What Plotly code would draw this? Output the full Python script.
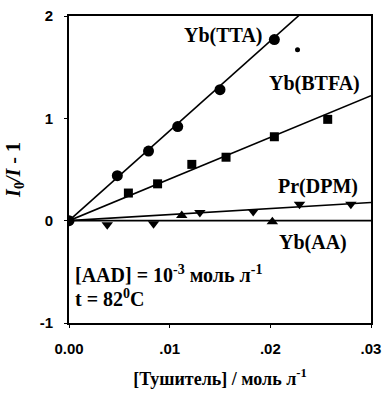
import plotly.graph_objects as go

# Quencher concentration (mol/L) and I0/I - 1 for each complex
x_tta = [0.0, 0.0048, 0.0079, 0.0108, 0.0150, 0.0204]
y_tta = [0.0, 0.44, 0.68, 0.92, 1.28, 1.77]

x_btfa = [0.0059, 0.0088, 0.0122, 0.0156, 0.0204, 0.0257]
y_btfa = [0.27, 0.36, 0.55, 0.62, 0.82, 0.99]

x_dpm = [0.0038, 0.0084, 0.0130, 0.0183, 0.0229, 0.0280]
y_dpm = [-0.04, -0.03, 0.08, 0.09, 0.16, 0.16]

x_aa = [0.0112, 0.0202]
y_aa = [0.05, -0.01]

x_stray = [0.0227]
y_stray = [1.67]

# Stern-Volmer slopes of the fitted lines (L/mol)
slope_names = ["TTA", "BTFA", "DPM", "AA"]
slopes = [87.8, 40.7, 5.9, 0.0]
x_fit = [0.0, 0.03]

x_ticks = [0.0, 0.01, 0.02, 0.03]
x_tick_text = ["0.00", ".01", ".02", ".03"]
y_ticks = [-1, 0, 1, 2]
y_tick_text = ["-1", "0", "1", "2"]

fig = go.Figure()

for k in slopes:
    fig.add_trace(go.Scatter(
        x=x_fit, y=[k * v for v in x_fit], mode="lines",
        line=dict(color="black", width=1.6), showlegend=False, hoverinfo="skip"))

fig.add_trace(go.Scatter(x=x_tta, y=y_tta, mode="markers",
                         marker=dict(symbol="circle", size=11, color="black"), showlegend=False))
fig.add_trace(go.Scatter(x=x_btfa, y=y_btfa, mode="markers",
                         marker=dict(symbol="square", size=9, color="black"), showlegend=False))
fig.add_trace(go.Scatter(x=x_dpm, y=y_dpm, mode="markers",
                         marker=dict(symbol="triangle-down", size=10, color="black"), showlegend=False))
fig.add_trace(go.Scatter(x=x_aa, y=y_aa, mode="markers",
                         marker=dict(symbol="triangle-up", size=10, color="black"), showlegend=False))
fig.add_trace(go.Scatter(x=x_stray, y=y_stray, mode="markers",
                         marker=dict(symbol="circle", size=5, color="black"), showlegend=False))

serif = "Liberation Serif"
lab_font = dict(family=serif, size=20, color="black", weight="bold")

labels = [
    ("Yb(TTA)", 0.0153, 1.81, "center"),
    ("Yb(BTFA)", 0.0244, 1.34, "center"),
    ("Pr(DPM)", 0.0247, 0.33, "center"),
    ("Yb(AA)", 0.0242, -0.21, "center"),
    ("[AAD] = 10<sup>-3</sup> моль л<sup>-1</sup>", 0.0004, -0.52, "left"),
    ("t = 82<sup>0</sup>C", 0.0004, -0.76, "left"),
]
for text, lx, ly, anchor in labels:
    fig.add_annotation(x=lx, y=ly, text=text, showarrow=False,
                       xanchor=anchor, yanchor="middle", font=lab_font)

tick_font = dict(family="Liberation Sans", size=15, color="black", weight="bold")

fig.update_xaxes(
    range=[0, 0.03], tickvals=x_ticks, ticktext=x_tick_text,
    showline=True, linecolor="black", linewidth=2, mirror=True,
    ticks="outside", ticklen=3, tickcolor="black", tickfont=tick_font,
    ticklabelstandoff=8, automargin=False,
    showgrid=False, zeroline=False,
    title=dict(text="[Тушитель] / моль л<sup>-1</sup>",
               font=dict(family=serif, size=18, color="black", weight="bold"),
               standoff=16),
)
fig.update_yaxes(
    range=[-1, 2], tickvals=y_ticks, ticktext=y_tick_text,
    showline=True, linecolor="black", linewidth=2, mirror=True,
    ticks="outside", ticklen=3, tickcolor="black", tickfont=tick_font,
    ticklabelstandoff=8, automargin=False,
    showgrid=False, zeroline=False,
    title=dict(text="<i>I</i><sub>0</sub><i>/I</i> - 1",
               font=dict(family=serif, size=20, color="black", weight="bold"),
               standoff=14),
)

fig.update_layout(
    width=383, height=393,
    margin=dict(l=69, r=12, t=16, b=70),
    paper_bgcolor="white", plot_bgcolor="white",
)

fig.write_html("out.html")
